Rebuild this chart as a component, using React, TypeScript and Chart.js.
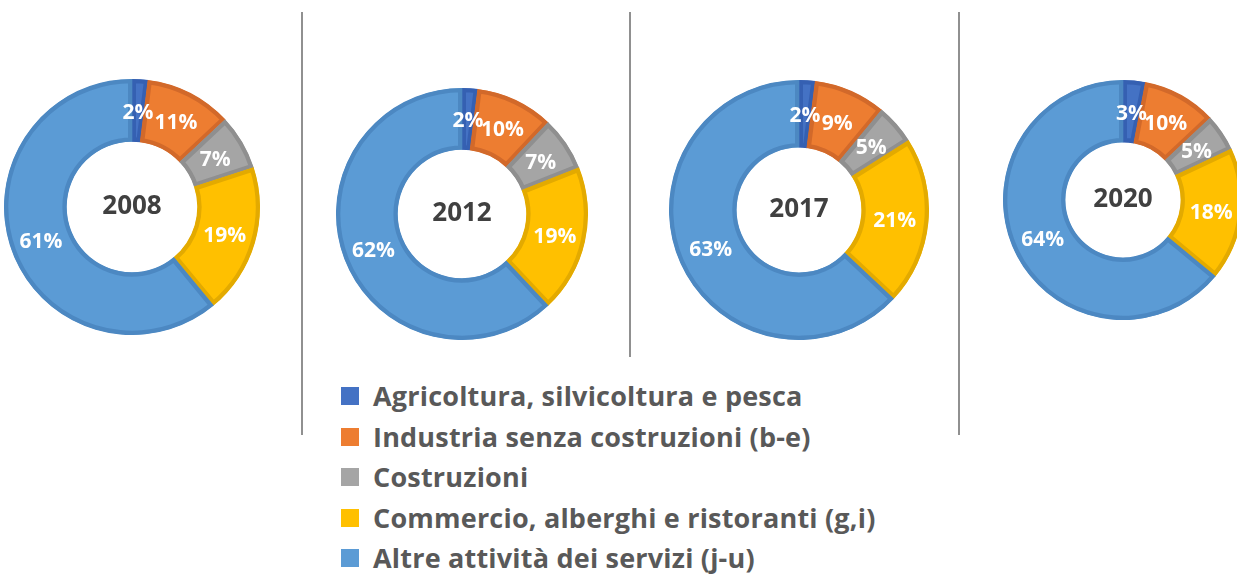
import React, { useEffect, useRef } from 'react';
import { Chart, registerables } from 'chart.js';

Chart.register(...registerables);

const categories = [
  'Agricoltura, silvicoltura e pesca',
  'Industria senza costruzioni (b-e)',
  'Costruzioni',
  'Commercio, alberghi e ristoranti (g,i)',
  'Altre attività dei servizi (j-u)',
];
const years = ['2008', '2012', '2017', '2020'];
const values2008 = [2, 11, 7, 19, 61];
const values2012 = [2, 10, 7, 19, 62];
const values2017 = [2, 9, 5, 21, 63];
const values2020 = [3, 10, 5, 18, 64];
const seriesValues = [values2008, values2012, values2017, values2020];

const fillColors = ['#4472C4', '#ED7D31', '#A5A5A5', '#FFC000', '#5B9BD5'];
const borderColors = ['#3560B2', '#D2692A', '#8F8F8F', '#E3AA00', '#4C88C2'];

const layouts = [
  { cx: 132, cy: 207, r: 126, cutout: '51%' },
  { cx: 462, cy: 214, r: 124, cutout: '51%' },
  { cx: 799, cy: 210, r: 128, cutout: '48%' },
  { cx: 1123, cy: 200, r: 118, cutout: '48%' },
];

const BW = 4;
const FONT = '"Open Sans", "Noto Sans", sans-serif';

function Donut({ values, year, layout }: { values: number[]; year: string; layout: any }) {
  const ref = useRef<HTMLCanvasElement | null>(null);
  const size = layout.r * 2 + BW;
  useEffect(() => {
    if (!ref.current) return;
    const plugin = {
      id: 'sliceLabels',
      afterDatasetsDraw(chart: any) {
        const ctx = chart.ctx;
        const meta = chart.getDatasetMeta(0);
        const data = chart.data.datasets[0].data as number[];
        ctx.save();
        ctx.textAlign = 'center';
        ctx.textBaseline = 'middle';
        ctx.fillStyle = '#ffffff';
        ctx.font = `bold 21px ${FONT}`;
        meta.data.forEach((arc: any, i: number) => {
          const p = arc.getCenterPoint();
          ctx.fillText(`${data[i]}%`, p.x, p.y + 2);
        });
        const a0 = meta.data[0];
        ctx.fillStyle = '#404040';
        ctx.font = `bold 26px ${FONT}`;
        ctx.fillText(year, a0.x, a0.y);
        ctx.restore();
      },
    };
    const chart = new Chart(ref.current, {
      type: 'doughnut',
      data: {
        labels: categories,
        datasets: [
          {
            data: values,
            backgroundColor: fillColors,
            borderColor: borderColors,
            borderWidth: BW,
            borderAlign: 'inner',
          } as any,
        ],
      },
      options: {
        responsive: false,
        animation: false,
        cutout: layout.cutout,
        rotation: 0,
        layout: { padding: 0 },
        plugins: {
          legend: { display: false },
          tooltip: { enabled: false },
        },
      },
      plugins: [plugin],
    });
    return () => chart.destroy();
  }, [values, year, layout]);
  return (
    <canvas
      ref={ref}
      width={size}
      height={size}
      style={{
        position: 'absolute',
        left: layout.cx - size / 2,
        top: layout.cy - size / 2,
        width: size,
        height: size,
      }}
    />
  );
}

const separators = [
  { x: 301, top: 12, bottom: 435 },
  { x: 629, top: 12, bottom: 357 },
  { x: 958, top: 12, bottom: 435 },
];

export default function App() {
  return (
    <div
      style={{
        position: 'absolute',
        left: 0,
        top: 0,
        width: 1237,
        height: 574,
        overflow: 'hidden',
        background: '#ffffff',
      }}
    >
      {separators.map((s, i) => (
        <div
          key={i}
          style={{
            position: 'absolute',
            left: s.x,
            top: s.top,
            width: 2,
            height: s.bottom - s.top,
            background: '#909090',
          }}
        />
      ))}
      {years.map((y, i) => (
        <Donut key={y} values={seriesValues[i]} year={y} layout={layouts[i]} />
      ))}
      {categories.map((c, i) => (
        <div
          key={c}
          style={{
            position: 'absolute',
            left: 341,
            top: 396 + i * 40.5 - 20,
            height: 40,
            display: 'flex',
            alignItems: 'center',
            whiteSpace: 'nowrap',
          }}
        >
          <div style={{ width: 18, height: 18, background: fillColors[i], marginRight: 14 }} />
          <span
            style={{
              fontFamily: FONT,
              fontWeight: 700,
              fontSize: 27,
              letterSpacing: 0.2,
              color: '#595959',
              lineHeight: '40px',
            }}
          >
            {c}
          </span>
        </div>
      ))}
    </div>
  );
}
